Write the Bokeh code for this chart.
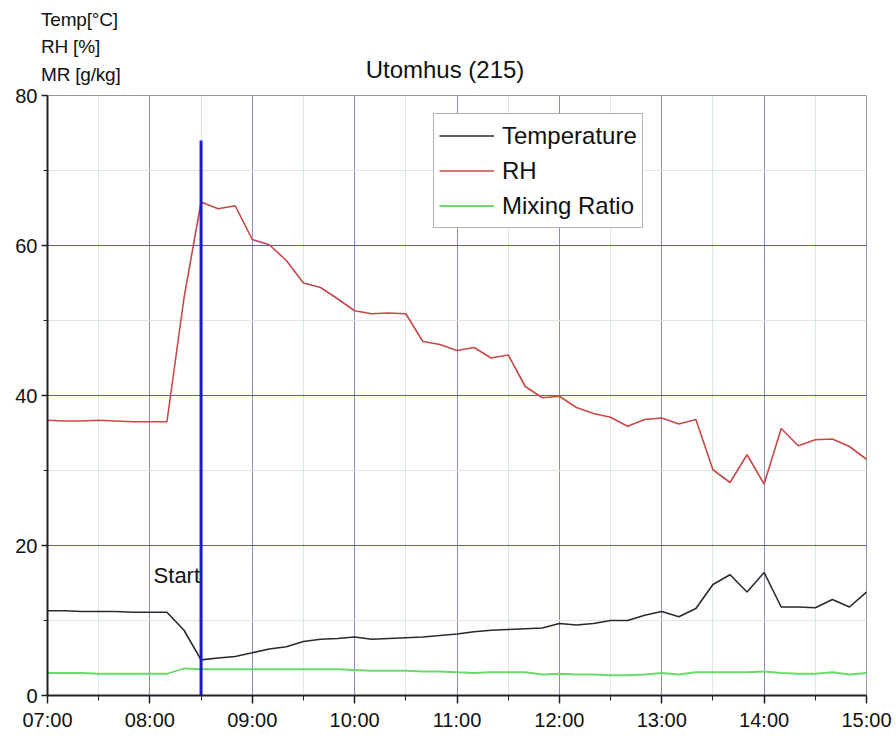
from bokeh.plotting import figure
from bokeh.layouts import column
from bokeh.models import (FixedTicker, Label, Legend, LegendItem, Range1d, ColumnDataSource, Div)
from bokeh.embed import file_html
from bokeh.resources import INLINE

# ---- data ----
times = ["07:00", "07:10", "07:20", "07:30", "07:40", "07:50", "08:00", "08:10", "08:20", "08:30",
         "08:40", "08:50", "09:00", "09:10", "09:20", "09:30", "09:40", "09:50", "10:00", "10:10",
         "10:20", "10:30", "10:40", "10:50", "11:00", "11:10", "11:20", "11:30", "11:40", "11:50",
         "12:00", "12:10", "12:20", "12:30", "12:40", "12:50", "13:00", "13:10", "13:20", "13:30",
         "13:40", "13:50", "14:00", "14:10", "14:20", "14:30", "14:40", "14:50", "15:00"]
temperature = [11.3, 11.3, 11.2, 11.2, 11.2, 11.1, 11.1, 11.1, 8.7, 4.75,
               5.0, 5.2, 5.7, 6.2, 6.5, 7.2, 7.5, 7.6, 7.8, 7.5,
               7.6, 7.7, 7.8, 8.0, 8.2, 8.5, 8.7, 8.8, 8.9, 9.0,
               9.6, 9.4, 9.6, 10.0, 10.0, 10.7, 11.2, 10.5, 11.6, 14.8,
               16.1, 13.8, 16.4, 11.8, 11.8, 11.7, 12.8, 11.8, 13.8]
rh = [36.7, 36.6, 36.6, 36.7, 36.6, 36.5, 36.5, 36.5, 53.0, 65.8,
      64.9, 65.3, 60.8, 60.1, 58.0, 55.0, 54.4, 52.9, 51.3, 50.9,
      51.0, 50.9, 47.2, 46.8, 46.0, 46.4, 45.0, 45.4, 41.2, 39.7,
      39.9, 38.4, 37.6, 37.1, 35.9, 36.8, 37.0, 36.2, 36.8, 30.1,
      28.4, 32.1, 28.2, 35.6, 33.3, 34.1, 34.2, 33.2, 31.5]
mixing_ratio = [3.0, 3.0, 3.0, 2.9, 2.9, 2.9, 2.9, 2.9, 3.6, 3.5,
                3.5, 3.5, 3.5, 3.5, 3.5, 3.5, 3.5, 3.5, 3.4, 3.3,
                3.3, 3.3, 3.2, 3.2, 3.1, 3.0, 3.1, 3.1, 3.1, 2.8,
                2.9, 2.8, 2.8, 2.7, 2.7, 2.8, 3.0, 2.8, 3.1, 3.1,
                3.1, 3.1, 3.2, 3.0, 2.9, 2.9, 3.1, 2.8, 3.0]
x_tick_labels = ["07:00", "08:00", "09:00", "10:00", "11:00", "12:00", "13:00", "14:00", "15:00"]
y_ticks = [0, 20, 40, 60, 80]
start_time = "08:30"
start_top = 74
start_label_y = 16
title_text = "Utomhus (215)"
y_label_lines = ["Temp[\u00b0C]", "RH [%]", "MR [g/kg]"]


def to_hours(s):
    h, m = s.split(":")
    return int(h) + int(m) / 60.0


x = [to_hours(t) for t in times]
x_ticks = [to_hours(t) for t in x_tick_labels]
src = ColumnDataSource(dict(x=x, temp=temperature, rh=rh, mr=mixing_ratio))

FONT = "Liberation Sans"
HEAD_H = 86

# header with the unit block and the title
tops = [10, 37, 65]
spans = "".join(
    f'<span style="position:absolute;left:41px;top:{t}px;font-size:19px;line-height:1;'
    f'letter-spacing:-0.2px;white-space:nowrap">{s}</span>'
    for t, s in zip(tops, y_label_lines))
spans += (f'<span style="position:absolute;left:325px;top:58px;width:240px;text-align:center;'
          f'font-size:24px;line-height:1;white-space:nowrap">{title_text}</span>')
header = Div(text=f'<div style="position:relative;width:896px;height:{HEAD_H}px;'
                  f'font-family:\'{FONT}\',Arial,sans-serif;color:#111111">{spans}</div>',
             width=896, height=HEAD_H, margin=(0, 0, 0, 0))

p = figure(width=896, height=649, output_backend="svg", toolbar_location=None,
           x_range=Range1d(x_ticks[0], x_ticks[-1]), y_range=Range1d(0, 80),
           min_border_left=47, min_border_right=30, min_border_top=9, min_border_bottom=40,
           background_fill_color="white", border_fill_color="white", margin=(0, 0, 0, 0))

p.outline_line_color = "#999999"
p.outline_line_width = 1

# grids
p.xgrid.ticker = FixedTicker(ticks=x_ticks, minor_ticks=[t + 0.5 for t in x_ticks[:-1]])
p.ygrid.ticker = FixedTicker(ticks=y_ticks, minor_ticks=[10, 30, 50, 70])
p.xgrid.grid_line_color = "#8a8ac8"
p.ygrid.grid_line_color = "#5a5abc"
p.xgrid.grid_line_width = 1
p.ygrid.grid_line_width = 1
p.xgrid.minor_grid_line_color = "#d6ecd6"
p.ygrid.minor_grid_line_color = "#dfe6df"

# axes
p.xaxis.ticker = FixedTicker(ticks=x_ticks, minor_ticks=[t + 0.5 for t in x_ticks[:-1]])
p.xaxis.major_label_overrides = {t: lab for t, lab in zip(x_ticks, x_tick_labels)}
p.yaxis.ticker = FixedTicker(ticks=y_ticks, minor_ticks=[10, 30, 50, 70])
for ax in (p.xaxis[0], p.yaxis[0]):
    ax.axis_line_color = "#222222"
    ax.axis_line_width = 2
    ax.major_tick_line_color = "#222222"
    ax.minor_tick_line_color = "#222222"
    ax.major_tick_line_width = 1.5
    ax.major_label_text_font = FONT
    ax.major_label_text_font_size = "20px"
    ax.major_label_text_color = "#111111"
p.xaxis.major_tick_out = 8
p.xaxis.major_tick_in = 0
p.xaxis.minor_tick_out = 5
p.xaxis.minor_tick_in = 0
p.yaxis.major_tick_out = 6
p.yaxis.major_tick_in = 0
p.yaxis.minor_tick_out = 4
p.yaxis.minor_tick_in = 0
p.xaxis.major_label_standoff = 5
p.yaxis.major_label_standoff = 4

# series
r_t = p.line("x", "temp", source=src, line_color="#2a2a2a", line_width=1.6)
r_rh = p.line("x", "rh", source=src, line_color="#c8484a", line_width=1.6)
r_mr = p.line("x", "mr", source=src, line_color="#6cd86c", line_width=1.8)

# start marker
xs = to_hours(start_time)
p.segment(x0=[xs], y0=[0], x1=[xs], y1=[start_top], line_color="#1c1cc4", line_width=3)
p.add_layout(Label(x=xs, y=start_label_y, text="Start", text_align="right",
                   text_baseline="middle", x_offset=-1, text_font=FONT,
                   text_font_size="22px", text_color="#111111"))

legend = Legend(items=[LegendItem(label="Temperature", renderers=[r_t]),
                       LegendItem(label="RH", renderers=[r_rh]),
                       LegendItem(label="Mixing Ratio", renderers=[r_mr])],
                location=(386, 467))
legend.label_text_font = FONT
legend.label_text_font_size = "24px"
legend.label_text_color = "#111111"
legend.border_line_color = "#666666"
legend.border_line_width = 1
legend.glyph_width = 55
legend.glyph_height = 33
legend.label_height = 33
legend.spacing = 2
legend.padding = 5
legend.margin = 0
legend.label_standoff = 8
legend.background_fill_alpha = 1
p.add_layout(legend, "center")

layout = column(header, p, spacing=0, margin=(0, 0, 0, 0))
open("out.html", "w").write(file_html(layout, INLINE))
